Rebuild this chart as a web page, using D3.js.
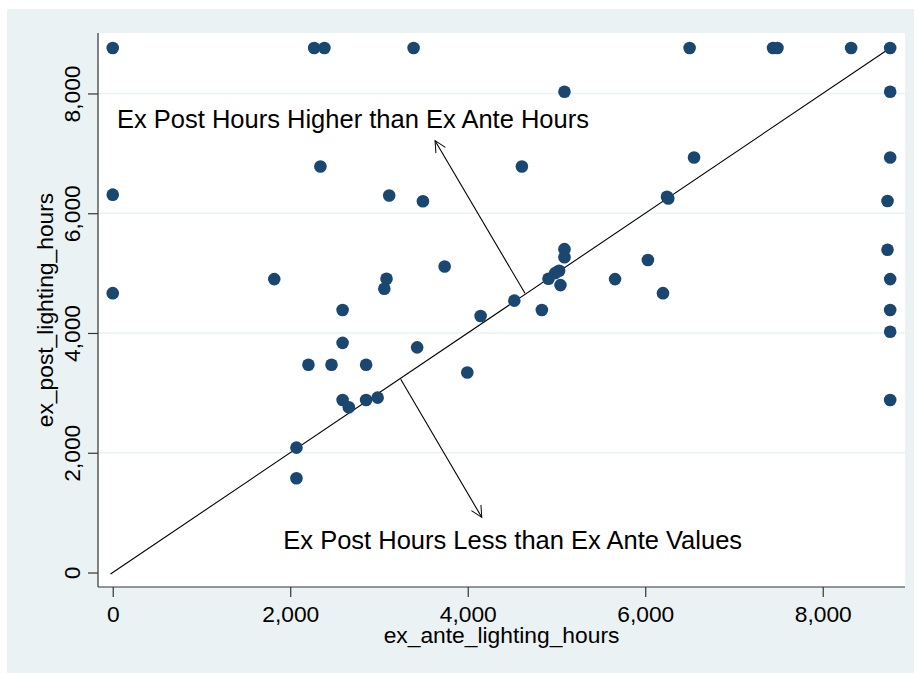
<!DOCTYPE html>
<html>
<head>
<meta charset="utf-8">
<script src="https://cdn.jsdelivr.net/npm/d3@7"></script>
<style>
    body { margin: 0; background: #ffffff; }
    text { font-family: "Liberation Sans", Arial, sans-serif; fill: #000; }
</style>
</head>
<body>
<div id="chart"></div>
<script>
// ex ante vs ex post hours
const exAnteHours = [
    0, 2270, 2385, 3390, 6500, 7440, 7490, 8320, 8760,
    5090, 8760,
    2340, 4610, 6550, 8760,
    0, 3115, 3495, 6245, 6260, 8730,
    8730, 5090, 5090, 6030, 3740, 5030, 4985, 4910, 5045,
    1820, 3085, 3060, 5660, 8760, 0, 6200, 4525,
    2590, 4835, 8760, 4145, 8760,
    2590, 3430, 2205, 2465, 2855, 3995,
    2590, 2660, 2855, 2985, 8760,
    2070, 2070
];
const exPostHours = [
    8760, 8760, 8760, 8760, 8760, 8760, 8760, 8760, 8760,
    8030, 8030,
    6780, 6780, 6930, 6930,
    6310, 6295, 6200, 6275, 6245, 6205,
    5390, 5400, 5265, 5220, 5110, 5040, 5000, 4905, 4800,
    4900, 4905, 4740, 4900, 4900, 4665, 4665, 4540,
    4385, 4385, 4385, 4285, 4020,
    3835, 3760, 3470, 3470, 3470, 3340,
    2880, 2760, 2880, 2920, 2880,
    2085, 1575
];
const tickValues = [0, 2000, 4000, 6000, 8000];
const gridValues = [2000, 4000, 6000, 8000];
const xDomain = [-166, 8927];
const yDomain = [-242, 9010];
const diagonalEnds = [-25, 8760];

const noteTexts = ["Ex Post Hours Higher than Ex Ante Hours", "Ex Post Hours Less than Ex Ante Values"];
const noteAnchors = [[48, 7424], [1922, 392]];
const arrowFrom = [[4645, 4663], [3245, 3227]];
const arrowTo = [[3632, 7212], [4158, 922]];

const xTitle = "ex_ante_lighting_hours";
const yTitle = "ex_post_lighting_hours";

class ScatterplotD3 {
    size = {width: 914, height: 673};
    margin = {top: 33, right: 9, bottom: 86, left: 98};
    markerColor = "#1a476f";
    bgColor = "#eaf2f3";
    circleRadius = 6.3;
    tickFont = 22.8;
    noteFont = 25.5;

    constructor(el){
        this.el = el;
    }

    create(){
        this.width = this.size.width - this.margin.left - this.margin.right;
        this.height = this.size.height - this.margin.top - this.margin.bottom;

        this.root = d3.select(this.el).append("svg")
            .attr("width", this.size.width)
            .attr("height", this.size.height);

        // graph region (stata s2color)
        this.root.append("rect")
            .attr("x", 7).attr("y", 9)
            .attr("width", this.size.width - 7)
            .attr("height", this.size.height - 9)
            .attr("fill", this.bgColor);

        this.svg = this.root.append("g")
            .attr("transform", "translate(" + this.margin.left + "," + this.margin.top + ")");

        this.svg.append("rect")
            .attr("width", this.width)
            .attr("height", this.height)
            .attr("fill", "#ffffff");

        this.xScale = d3.scaleLinear().domain(xDomain).range([0, this.width]);
        this.yScale = d3.scaleLinear().domain(yDomain).range([this.height, 0]);

        this.root.append("defs").append("marker")
            .attr("id", "openArrow")
            .attr("markerUnits", "userSpaceOnUse")
            .attr("markerWidth", 24).attr("markerHeight", 24)
            .attr("viewBox", "-12 -12 24 24")
            .attr("refX", 0).attr("refY", 0)
            .attr("orient", "auto")
            .append("path")
            .attr("d", "M-11,-5.5L0,0L-11,5.5")
            .attr("fill", "none")
            .attr("stroke", "#000")
            .attr("stroke-width", 1);
    }

    renderAxes(){
        this.svg.selectAll(".gridLine")
            .data(gridValues)
            .join("line")
            .attr("class", "gridLine")
            .attr("x1", 0).attr("x2", this.width)
            .attr("y1", d => this.yScale(d)).attr("y2", d => this.yScale(d))
            .attr("stroke", this.bgColor)
            .attr("stroke-width", 1.7);

        const xAxis = d3.axisBottom(this.xScale)
            .tickValues(tickValues)
            .tickSize(10)
            .tickPadding(9)
            .tickFormat(d3.format(","));
        const yAxis = d3.axisLeft(this.yScale)
            .tickValues(tickValues)
            .tickSize(10)
            .tickFormat(d3.format(","));

        const xG = this.svg.append("g")
            .attr("class", "xAxisG")
            .attr("transform", "translate(0," + this.height + ")")
            .call(xAxis);
        const yG = this.svg.append("g")
            .attr("class", "yAxisG")
            .call(yAxis);

        [xG, yG].forEach(g => {
            g.select(".domain").attr("stroke", "#333").attr("stroke-width", 1.2)
                .attr("d", g === xG ? "M0,0H" + this.width : "M0,0V" + this.height);
            g.selectAll(".tick line").attr("stroke", "#333").attr("stroke-width", 1.2);
            g.selectAll(".tick text")
                .style("font-size", this.tickFont + "px")
                .style("font-family", "'Liberation Sans', Arial, sans-serif")
                .attr("fill", "#000");
        });

        // stata draws the y labels vertically
        yG.selectAll(".tick text")
            .attr("x", null).attr("dy", null)
            .attr("text-anchor", "middle")
            .attr("transform", "translate(-18,0) rotate(-90)");

        this.svg.append("text")
            .attr("x", this.width / 2)
            .attr("y", this.height + 56)
            .attr("text-anchor", "middle")
            .style("font-size", this.tickFont + "px")
            .text(xTitle);

        this.svg.append("text")
            .attr("transform", "translate(-45," + (this.height / 2) + ") rotate(-90)")
            .attr("text-anchor", "middle")
            .style("font-size", this.tickFont + "px")
            .text(yTitle);
    }

    renderScatterplot(){
        const points = exAnteHours.map((x, i) => ({x: x, y: exPostHours[i]}));

        this.svg.append("line")
            .attr("x1", this.xScale(diagonalEnds[0])).attr("y1", this.yScale(diagonalEnds[0]))
            .attr("x2", this.xScale(diagonalEnds[1])).attr("y2", this.yScale(diagonalEnds[1]))
            .attr("stroke", "#000")
            .attr("stroke-width", 1.1);

        this.svg.selectAll(".markerCircle")
            .data(points)
            .join("circle")
            .attr("class", "markerCircle")
            .attr("cx", d => this.xScale(d.x))
            .attr("cy", d => this.yScale(d.y))
            .attr("r", this.circleRadius)
            .attr("fill", this.markerColor);

        this.svg.selectAll(".noteArrow")
            .data(arrowFrom)
            .join("line")
            .attr("class", "noteArrow")
            .attr("x1", d => this.xScale(d[0])).attr("y1", d => this.yScale(d[1]))
            .attr("x2", (d, i) => this.xScale(arrowTo[i][0]))
            .attr("y2", (d, i) => this.yScale(arrowTo[i][1]))
            .attr("stroke", "#000")
            .attr("stroke-width", 1.1)
            .attr("marker-end", "url(#openArrow)");

        this.svg.selectAll(".noteText")
            .data(noteTexts)
            .join("text")
            .attr("class", "noteText")
            .attr("x", (d, i) => this.xScale(noteAnchors[i][0]))
            .attr("y", (d, i) => this.yScale(noteAnchors[i][1]))
            .style("font-size", this.noteFont + "px")
            .text(d => d);
    }
}

const chart = new ScatterplotD3(document.getElementById("chart"));
chart.create();
chart.renderAxes();
chart.renderScatterplot();
</script>
</body>
</html>
